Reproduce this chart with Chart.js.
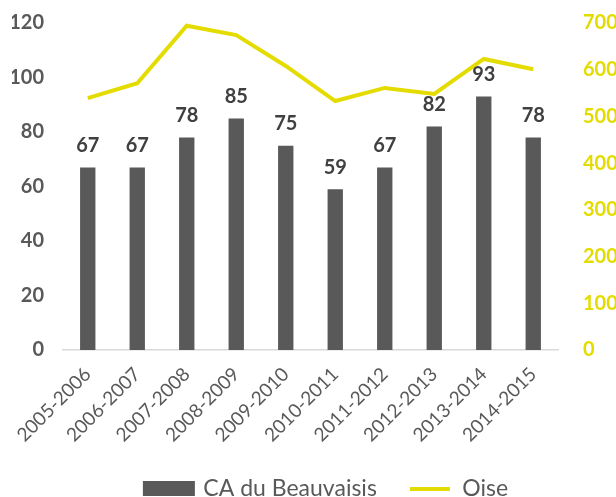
<!DOCTYPE html>
<html>
<head>
<meta charset="utf-8">
<script src="https://cdn.jsdelivr.net/npm/chart.js@4/dist/chart.umd.min.js"></script>
<style>
  html, body { margin: 0; padding: 0; background: #fff; }
  #wrap { width: 616px; height: 497px; }
</style>
</head>
<body>
<div id="wrap"><canvas id="chart"></canvas></div>
<script>
// Données
const categories = ['2005-2006','2006-2007','2007-2008','2008-2009','2009-2010','2010-2011','2011-2012','2012-2013','2013-2014','2014-2015'];
const beauvaisis = [67, 67, 78, 85, 75, 59, 67, 82, 93, 78];
const oise = [539, 571, 694, 674, 608, 533, 561, 548, 623, 601];

const GREY = '#595959';
const YELLOW = '#E4DC00';
const FONT = 'Lato, "Open Sans", sans-serif';

// symboles de légende (image centrée sur la case de 72px)
function legendSymbol(w, h, x0, x1, color) {
    const c = document.createElement('canvas');
    c.width = w; c.height = h;
    const g = c.getContext('2d');
    g.fillStyle = color;
    g.fillRect(x0, 0, x1 - x0, h);
    return c;
}
const barSymbol = legendSymbol(80, 15, 27, 79, GREY);
const lineSymbol = legendSymbol(80, 4, 35, 75, YELLOW);

// étiquettes au-dessus des barres
const barLabels = {
    id: 'barLabels',
    afterDatasetsDraw(chart) {
        const ctx = chart.ctx;
        const meta = chart.getDatasetMeta(1);
        ctx.save();
        ctx.font = 'bold 20px ' + FONT;
        ctx.fillStyle = '#404040';
        ctx.textAlign = 'center';
        ctx.textBaseline = 'bottom';
        meta.data.forEach((bar, i) => {
            ctx.fillText(beauvaisis[i], bar.x, bar.y - 12);
        });
        ctx.restore();
    }
};

new Chart(document.getElementById('chart'), {
    data: {
        labels: categories,
        datasets: [
            {
                type: 'line',
                label: 'Oise',
                data: oise,
                yAxisID: 'y1',
                borderColor: YELLOW,
                backgroundColor: YELLOW,
                borderWidth: 4,
                pointRadius: 0,
                tension: 0,
                pointStyle: lineSymbol,
                order: 0
            },
            {
                type: 'bar',
                label: 'CA du Beauvaisis',
                data: beauvaisis,
                yAxisID: 'y',
                backgroundColor: GREY,
                barPercentage: 0.31,
                categoryPercentage: 1,
                pointStyle: barSymbol,
                order: 1
            }
        ]
    },
    options: {
        responsive: true,
        maintainAspectRatio: false,
        animation: false,
        layout: { padding: { top: 23, left: 12, right: 0, bottom: -13 } },
        plugins: {
            tooltip: { enabled: false },
            legend: {
                position: 'bottom',
                reverse: true,
                labels: {
                    usePointStyle: true,
                    pointStyleWidth: 72,
                    color: GREY,
                    font: { family: FONT, size: 23 },
                    padding: 2,
                    boxHeight: 15
                }
            }
        },
        scales: {
            x: {
                grid: { display: false },
                border: { color: '#D9D9D9', width: 1.5 },
                afterFit: s => { s.height = 125; s.paddingTop = 0; },
                ticks: {
                    color: GREY,
                    font: { family: FONT, size: 19 },
                    minRotation: 45,
                    maxRotation: 45,
                    padding: 5
                }
            },
            y: {
                position: 'left',
                min: 0, max: 120,
                grid: { display: false },
                border: { display: false },
                afterFit: s => { s.width = 51; s.paddingTop = 0; },
                ticks: {
                    stepSize: 20,
                    color: GREY,
                    font: { family: FONT, size: 20, weight: 'bold' },
                    padding: 11
                }
            },
            y1: {
                position: 'right',
                min: 0, max: 700,
                grid: { display: false },
                border: { display: false },
                afterFit: s => { s.width = 58; s.paddingTop = 0; },
                ticks: {
                    stepSize: 100,
                    color: YELLOW,
                    font: { family: FONT, size: 20, weight: 'bold' },
                    padding: 17
                }
            }
        }
    },
    plugins: [barLabels]
});
</script>
</body>
</html>
